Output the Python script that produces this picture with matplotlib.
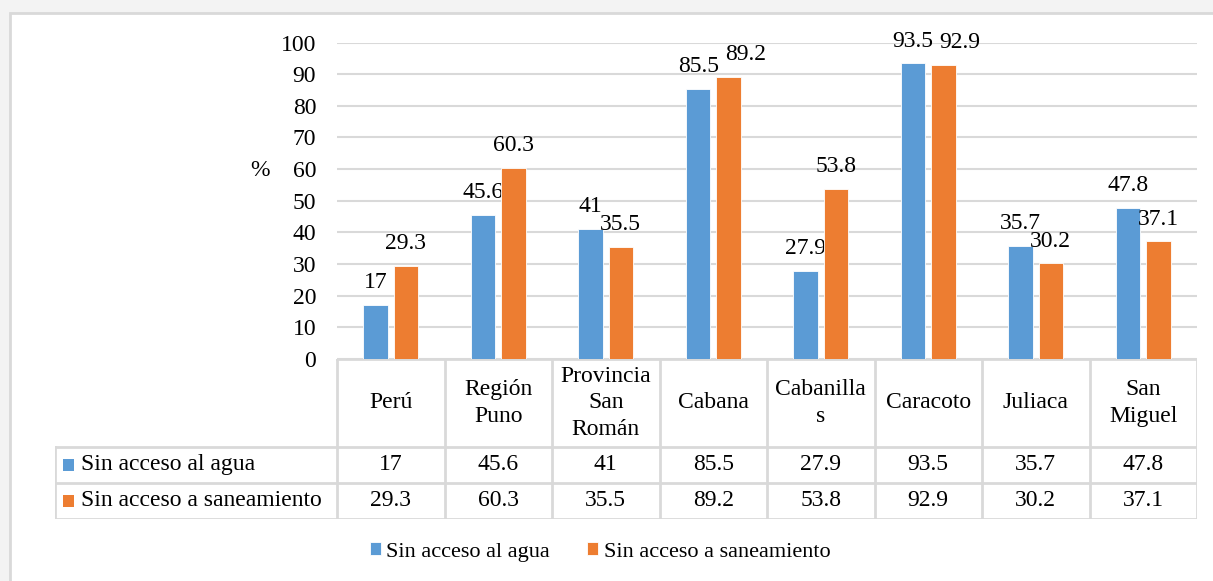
import numpy as np
import matplotlib
matplotlib.use("Agg")
import matplotlib.pyplot as plt
from matplotlib.patches import Rectangle

# datos
categorias = ["Perú", "Región\nPuno", "Provincia\nSan\nRomán", "Cabana",
              "Cabanilla\ns", "Caracoto", "Juliaca", "San\nMiguel"]
series = ["Sin acceso al agua", "Sin acceso a saneamiento"]
sin_agua = [17, 45.6, 41, 85.5, 27.9, 93.5, 35.7, 47.8]
sin_saneamiento = [29.3, 60.3, 35.5, 89.2, 53.8, 92.9, 30.2, 37.1]
yticks = list(range(0, 101, 10))

colores = ["#5B9BD5", "#ED7D31"]
gris = "#D9D9D9"

plt.rcParams["font.family"] = ["Liberation Serif", "DejaVu Serif"]
plt.rcParams["font.size"] = 17

W, H = 1213, 581
fig = plt.figure(figsize=(W / 100, H / 100), dpi=100, facecolor="#F3F3F3")

def px(x0, y0, x1, y1):
    # caja en pixeles -> fraccion de figura
    return [x0 / W, 1 - y1 / H, (x1 - x0) / W, (y1 - y0) / H]

# marco del grafico
fondo = fig.add_axes([0, 0, 1, 1])
fondo.set_xlim(0, W); fondo.set_ylim(H, 0); fondo.axis("off")
fondo.add_patch(Rectangle((10, 13), W + 20, H, facecolor="white", edgecolor=gris, lw=2))

# barras
ax = fig.add_axes(px(337, 42.7, 1197, 358.7))
x = np.arange(len(categorias))
ancho = 0.228
desp = 0.14
datos = [sin_agua, sin_saneamiento]
barras = []
etiquetas = []
for i, vals in enumerate(datos):
    b = ax.bar(x + (2 * i - 1) * desp, vals, ancho, color=colores[i],
               edgecolor="white", linewidth=0.6, label=series[i], zorder=3)
    barras.append(b)
    fila = []
    for xi, v in zip(x + (2 * i - 1) * desp, vals):
        t = ax.annotate(f"{v:g}", (xi, v), xytext=(0, 16), textcoords="offset points",
                        ha="center", va="center", annotation_clip=False)
        fila.append(t)
    etiquetas.append(fila)
ax.set_xlim(-0.5, len(categorias) - 0.5)
ax.set_ylim(0, 100)
ax.set_yticks(yticks)
ax.set_xticks([])
ax.yaxis.grid(True, color=gris, lw=1.5, zorder=0)
ax.tick_params(axis="y", length=0, pad=15)
for s in ax.spines.values():
    s.set_visible(False)
ax.set_facecolor("none")
fig.text(260 / W, 1 - 170 / H, "%", ha="center", va="center")

# separar etiquetas que se pisan (como hace Excel)
fig.canvas.draw()
r = fig.canvas.get_renderer()
for a, b in zip(etiquetas[0], etiquetas[1]):
    ea, eb = a.get_window_extent(r), b.get_window_extent(r)
    cerca = abs((ea.y0 + ea.y1) / 2 - (eb.y0 + eb.y1) / 2) < 14
    if cerca and ea.x1 + 2 > eb.x0:
        mover = ea.x1 - eb.x0 + 6
        b.xyann = (mover * 72 / 100, 16)

# tabla de datos
izq = 282 / 107.5
tab = fig.add_axes(px(55, 358.7, 1197, 519))
tab.set_xlim(-0.5 - izq, len(categorias) - 0.5)
tab.set_ylim(160.3, 0)
tab.axis("off")
filas = [0, 88.3, 124.3, 160.3]
kw = dict(color=gris, lw=2, solid_capstyle="projecting")
tab.plot([-0.5, len(categorias) - 0.5], [0, 0], **kw)
for yv in filas[1:]:
    tab.plot([-0.5 - izq, len(categorias) - 0.5], [yv, yv], **kw)
tab.plot([-0.5 - izq] * 2, [filas[1], filas[3]], **kw)
for c in range(len(categorias) + 1):
    tab.plot([c - 0.5] * 2, [0, filas[3]], **kw)
for c, nombre in enumerate(categorias):
    tab.text(c, filas[1] / 2, nombre, ha="center", va="center", linespacing=1.35)
for k, vals in enumerate(datos):
    yc = (filas[k + 1] + filas[k + 2]) / 2
    for c, v in enumerate(vals):
        tab.text(c, yc, f"{v:g}", ha="center", va="center")
    tab.add_patch(Rectangle((-0.5 - izq + 8 / 107.5, yc - 6), 11 / 107.5, 12,
                            facecolor=colores[k], edgecolor="none"))
    tab.text(-0.5 - izq + 26 / 107.5, yc, series[k], ha="left", va="center")

# leyenda
fig.legend(handles=barras, labels=series, loc="center", ncol=2,
           bbox_to_anchor=(600 / W, 1 - 552 / H), frameon=False, fontsize=16,
           handlelength=0.5, handleheight=0.5, handletextpad=0.25,
           columnspacing=1.67)

fig.savefig("out.png", dpi=100, facecolor=fig.get_facecolor())
